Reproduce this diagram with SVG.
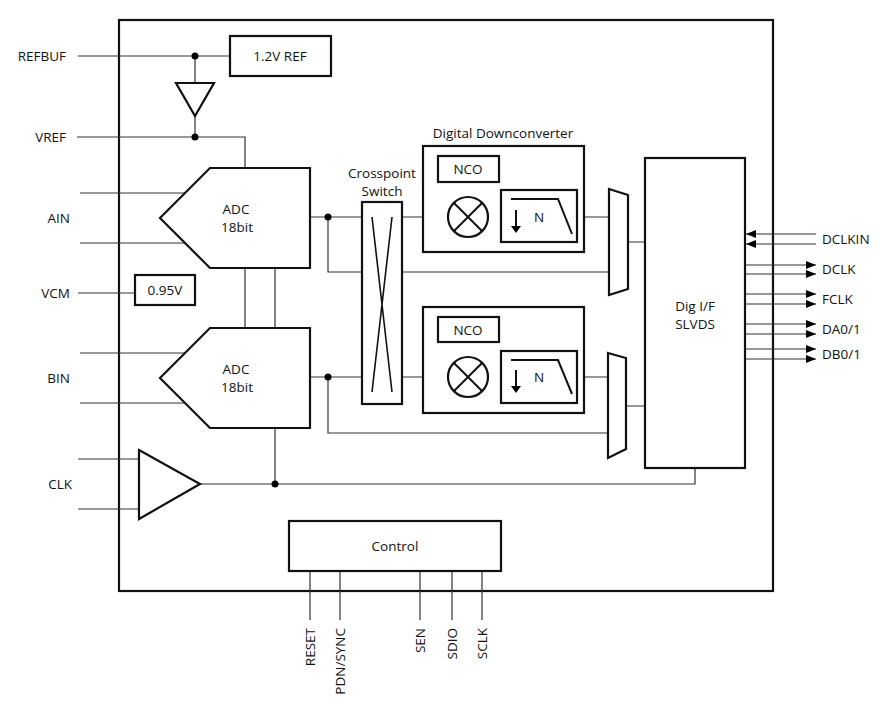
<svg xmlns="http://www.w3.org/2000/svg" width="880" height="720" viewBox="0 0 880 720">
<style>
text{font-family:"Open Sans","Liberation Sans",sans-serif;font-size:13.5px;fill:#111}
.b{fill:#fff;stroke:#111;stroke-width:2.2}
.w{fill:none;stroke:#333;stroke-width:1.2}
.t{fill:none;stroke:#111;stroke-width:2}
.a{stroke:#333;stroke-width:1.2}
.d{fill:#000}
.m{text-anchor:middle}
.e{text-anchor:end}
</style>
<defs>
<marker id="ar" markerWidth="10" markerHeight="8" refX="10" refY="4" orient="auto" markerUnits="userSpaceOnUse"><path d="M0,0L10,4L0,8z" fill="#000"/></marker>
</defs>
<rect width="880" height="720" fill="#fff"/>
<g id="chip"><rect x="119" y="20" width="654" height="571" fill="none" stroke="#111" stroke-width="2.2"/></g>
<g id="connectors">
<path class="w" d="M78,56H230M195,56V83M195,116V137M77,137H245V168"/>
<path class="w" d="M80,193H186M80,243H186M78,293H135M80,353H186M80,403H186M78,459H139M78,509H139"/>
<path class="w" d="M310,217H362M328,217V272H609M310,377H362M328,377V433H608"/>
<path class="w" d="M245,268V328M275,268V328M275,428V484M200,484H695V468"/>
<path class="w" d="M402,217H448M488,217H501M577,217H609M402,377H448M488,377H501M577,377H608M468,182V197M468,342V357"/>
<path class="w" d="M628,242H645M626,406H645"/>
<path class="w" d="M310,571V620M340,571V620M420,571V620M452,571V620M482,571V620"/>
<g class="a" marker-end="url(#ar)">
<line x1="816" y1="234" x2="746" y2="234"/><line x1="816" y1="244" x2="746" y2="244"/>
<line x1="745" y1="265" x2="816" y2="265"/><line x1="745" y1="274" x2="816" y2="274"/>
<line x1="745" y1="294" x2="816" y2="294"/><line x1="745" y1="304" x2="816" y2="304"/>
<line x1="745" y1="324" x2="816" y2="324"/><line x1="745" y1="334" x2="816" y2="334"/>
<line x1="745" y1="349" x2="816" y2="349"/><line x1="745" y1="359" x2="816" y2="359"/>
</g>
<circle class="d" cx="195" cy="56" r="3.5"/><circle class="d" cx="195" cy="137" r="3.5"/>
<circle class="d" cx="328" cy="217" r="3.5"/><circle class="d" cx="328" cy="377" r="3.5"/><circle class="d" cx="275" cy="484" r="3.5"/>
</g>
<g id="ref"><rect class="b" x="230" y="36" width="101" height="40"/><text class="m" x="280" y="61">1.2V REF</text></g>
<g id="vbuf"><path class="b" d="M176,83H214L195,116z"/></g>
<g id="adcA"><path class="b" d="M210,168H310V268H210L160,218z"/><text class="m" x="236" y="214">ADC</text><text class="m" x="237" y="232">18bit</text></g>
<g id="vcm"><rect class="b" x="135" y="275" width="60" height="30"/><text class="m" x="165" y="295">0.95V</text></g>
<g id="adcB"><path class="b" d="M210,328H310V428H210L160,378z"/><text class="m" x="236" y="374">ADC</text><text class="m" x="237" y="392">18bit</text></g>
<g id="clkbuf"><path class="b" d="M139,450L200,484L139,519z"/></g>
<g id="xpt"><text class="m" x="382" y="178">Crosspoint</text><text class="m" x="382" y="196">Switch</text><rect class="b" x="362" y="202" width="40" height="202"/><path class="t" style="stroke-width:1.6" d="M372,217L392,392M392,217L372,392"/></g>
<g id="ddc1"><text class="m" x="503" y="138">Digital Downconverter</text><rect class="b" x="423" y="146" width="161" height="106"/><rect class="b" x="438" y="156" width="61" height="26"/><text class="m" x="468" y="174">NCO</text><circle class="b" cx="468" cy="217" r="20"/><path class="t" d="M454,203L482,231M482,203L454,231"/><rect class="b" x="501" y="190" width="76" height="52"/><path class="t" d="M511,199H558L572,234M516,210V228"/><path d="M511,226H521L516,233z"/><text class="m" x="539" y="222">N</text></g>
<g id="ddc2"><rect class="b" x="423" y="307" width="161" height="106"/><rect class="b" x="438" y="317" width="61" height="25"/><text class="m" x="468" y="335">NCO</text><circle class="b" cx="468" cy="377" r="20"/><path class="t" d="M454,363L482,391M482,363L454,391"/><rect class="b" x="501" y="351" width="76" height="52"/><path class="t" d="M511,360H558L572,394M516,370V388"/><path d="M511,386H521L516,393z"/><text class="m" x="539" y="382">N</text></g>
<g id="mux1"><path class="b" d="M609,189L628,195V289L609,295z"/></g>
<g id="mux2"><path class="b" d="M608,353L626,358V449L608,458z"/></g>
<g id="digif"><rect class="b" x="645" y="158" width="100" height="310"/><text class="m" x="695" y="311">Dig I/F</text><text class="m" x="695" y="329">SLVDS</text></g>
<g id="control"><rect class="b" x="289" y="521" width="212" height="50"/><text class="m" x="395" y="551">Control</text></g>
<g id="labels">
<text class="e" x="66" y="61">REFBUF</text><text class="e" x="66" y="142">VREF</text><text class="e" x="70" y="223">AIN</text><text class="e" x="70" y="298">VCM</text><text class="e" x="70" y="383">BIN</text><text class="e" x="72" y="489">CLK</text>
<text x="822" y="244">DCLKIN</text><text x="822" y="274">DCLK</text><text x="822" y="304">FCLK</text><text x="822" y="334">DA0/1</text><text x="822" y="359">DB0/1</text>
<text class="e" transform="translate(315,628) rotate(-90)">RESET</text>
<text class="e" transform="translate(345,628) rotate(-90)">PDN/SYNC</text>
<text class="e" transform="translate(425,628) rotate(-90)">SEN</text>
<text class="e" transform="translate(457,628) rotate(-90)">SDIO</text>
<text class="e" transform="translate(487,628) rotate(-90)">SCLK</text>
</g>
</svg>
